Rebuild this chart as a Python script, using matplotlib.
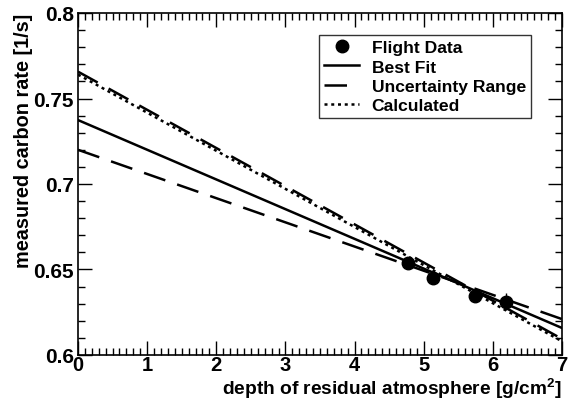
import matplotlib
matplotlib.use("Agg")
import matplotlib.pyplot as plt
from matplotlib.lines import Line2D
from matplotlib.ticker import MultipleLocator

plt.rcParams["font.family"] = ["Liberation Sans", "DejaVu Sans"]
plt.rcParams["font.weight"] = "bold"
plt.rcParams["mathtext.fontset"] = "custom"
plt.rcParams["mathtext.bf"] = "Liberation Sans:bold"

# flight data
depth = [4.77, 5.14, 5.74, 6.19]
rate = [0.6536, 0.6449, 0.6347, 0.6312]
rate_err = [0.0015, 0.0015, 0.003, 0.005]

# lines given by values at x=0 and x=7
line_x = [0, 7]
best_fit = [0.7374, 0.6158]
unc_low = [0.7200, 0.6210]
unc_high = [0.7657, 0.6094]
calculated = [0.7640, 0.6080]

fig = plt.figure(figsize=(5.73, 4.02), dpi=100)
ax = fig.add_axes([78 / 573, 1 - 356 / 402, (562 - 78) / 573, (356 - 14) / 402])

l_fit, = ax.plot(line_x, best_fit, color="black", lw=1.8)
l_unc, = ax.plot(line_x, unc_low, color="black", lw=1.8, dashes=(9, 5))
ax.plot(line_x, unc_high, color="black", lw=1.8, dashes=(9, 5))
l_calc, = ax.plot(line_x, calculated, color="black", lw=1.8, dashes=(1.2, 1.5))
ax.errorbar(depth, rate, yerr=rate_err, fmt="o", color="black", ms=9,
            elinewidth=1, capsize=0)

ax.set_xlim(0, 7)
ax.set_ylim(0.6, 0.8)
ax.xaxis.set_major_locator(MultipleLocator(1))
ax.xaxis.set_minor_locator(MultipleLocator(0.1))
ax.yaxis.set_minor_locator(MultipleLocator(0.01))
ax.set_yticks([0.6, 0.65, 0.7, 0.75, 0.8])
ax.set_yticklabels(["0.6", "0.65", "0.7", "0.75", "0.8"])
ax.tick_params(which="both", direction="in", top=True, right=True, labelsize=15, width=1)
ax.tick_params(which="major", length=10, pad=3)
ax.tick_params(axis="x", which="major", pad=0, labelsize=14.5)
ax.tick_params(which="minor", length=5)
for s in ax.spines.values():
    s.set_linewidth(1.2)

ax.set_xlabel("depth of residual atmosphere [g/cm$^\\mathbf{2}$]", fontsize=13.8,
              fontweight="bold", loc="right")
ax.xaxis.set_label_coords(1.0, -0.059)
ax.set_ylabel("measured carbon rate [1/s]", fontsize=14.3, fontweight="bold", loc="top")
ax.yaxis.set_label_coords(-0.093, 1.0)

dot = Line2D([], [], ls="none", marker="o", color="black", ms=9)
leg = ax.legend([dot, l_fit, l_unc, l_calc],
                ["Flight Data", "Best Fit", "Uncertainty Range", "Calculated"],
                loc="upper left", bbox_to_anchor=((319 - 78) / 484, 1 - (36 - 14) / 342),
                fontsize=12.6, frameon=True, fancybox=False, edgecolor="black",
                handlelength=2.0, borderpad=0.3, labelspacing=0.22, handletextpad=0.7,
                borderaxespad=0)
leg.get_frame().set_linewidth(1)
for t in leg.get_texts():
    t.set_fontweight("bold")

fig.savefig("out.png", dpi=100)
